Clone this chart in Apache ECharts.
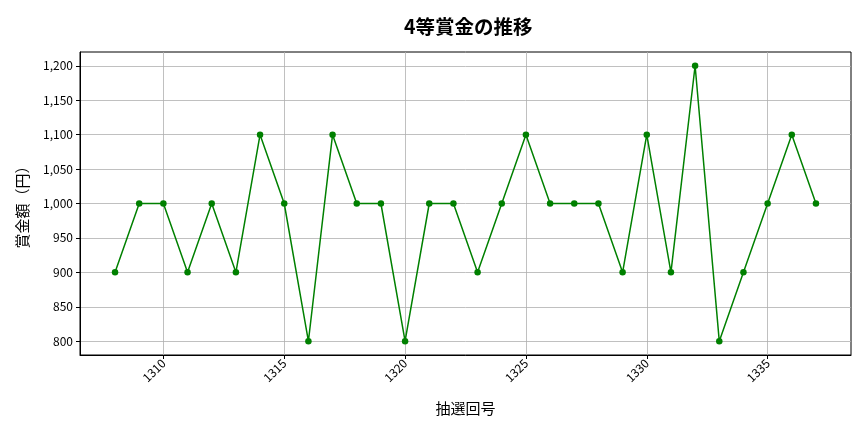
<!DOCTYPE html>
<html><head><meta charset="utf-8">
<script src="https://cdn.jsdelivr.net/npm/echarts@6/dist/echarts.min.js"></script>
<style>html,body{margin:0;padding:0;background:#fff}#c{width:864px;height:432px}</style>
</head><body><div id="c"></div>
<script>
const draws = [1308,1309,1310,1311,1312,1313,1314,1315,1316,1317,1318,1319,1320,1321,1322,1323,1324,1325,1326,1327,1328,1329,1330,1331,1332,1333,1334,1335,1336,1337];
const prizes = [900,1000,1000,900,1000,900,1100,1000,800,1100,1000,1000,800,1000,1000,900,1000,1100,1000,1000,1000,900,1100,900,1200,800,900,1000,1100,1000];
const xTicks = [1310,1315,1320,1325,1330,1335];
const yTicks = [800,850,900,950,1000,1050,1100,1150,1200];
const FONT = '"Noto Sans CJK JP", "Noto Sans", sans-serif';
const chart = echarts.init(document.getElementById('c'));
chart.setOption({
  animation: false,
  title: { text: '4等賞金の推移', left: 399, top: 12,
    textStyle: { fontFamily: FONT, fontSize: 19.5, fontWeight: 'bold', color: '#000' } },
  grid: { left: 80, right: 13, top: 52, bottom: 77, show: true, borderColor: '#000', borderWidth: 1, containLabel: false },
  xAxis: {
    type: 'value', min: 1306.55, max: 1338.45,
    name: '抽選回号', nameLocation: 'middle', nameGap: 46,
    nameTextStyle: { fontFamily: FONT, fontSize: 15, color: '#000' },
    axisLine: { show: true, lineStyle: { color: '#000' } },
    axisTick: { show: true, customValues: xTicks, length: 4, lineStyle: { color: '#000' } },
    axisLabel: { customValues: xTicks, rotate: 45, fontFamily: FONT, fontSize: 12, color: '#000', margin: 6,
      formatter: v => String(v) },
    splitLine: { show: true, lineStyle: { color: '#b0b0b0', width: 0.8 } }
  },
  yAxis: {
    type: 'value', min: 780, max: 1220,
    name: '賞金額（円）', nameLocation: 'middle', nameGap: 50, nameRotate: 90,
    nameTextStyle: { fontFamily: FONT, fontSize: 15, color: '#000' },
    axisLine: { show: true, lineStyle: { color: '#000' } },
    axisTick: { show: true, customValues: yTicks, length: 4, lineStyle: { color: '#000' } },
    axisLabel: { customValues: yTicks, fontFamily: FONT, fontSize: 12, color: '#000', margin: 7,
      formatter: v => v.toLocaleString('en-US') },
    splitLine: { show: true, lineStyle: { color: '#b0b0b0', width: 0.8 } }
  },
  series: [{
    type: 'line',
    data: draws.map((d, i) => [d, prizes[i]]),
    lineStyle: { color: '#008000', width: 1.5 },
    itemStyle: { color: '#008000' },
    symbol: 'circle', symbolSize: 6.5, showSymbol: true
  }]
});
</script></body></html>
